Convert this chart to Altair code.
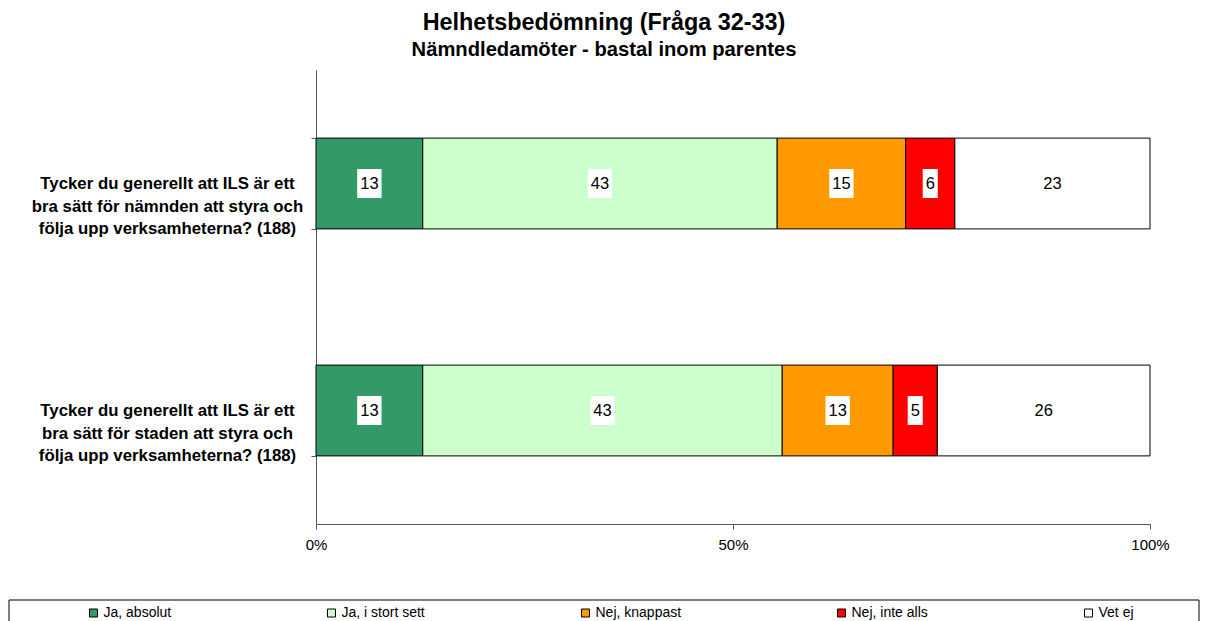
import altair as alt
import pandas as pd

FONT = "Liberation Sans"

questions = [
    "Tycker du generellt att ILS är ett\nbra sätt för nämnden att styra och\nfölja upp verksamheterna? (188)",
    "Tycker du generellt att ILS är ett\nbra sätt för staden att styra och\nfölja upp verksamheterna? (188)",
]
answers = ["Ja, absolut", "Ja, i stort sett", "Nej, knappast", "Nej, inte alls", "Vet ej"]
colors = ["#339966", "#CCFFCC", "#FF9900", "#FF0000", "#FFFFFF"]
shares_q1 = [12.8, 42.5, 15.4, 5.9, 23.4]
shares_q2 = [12.8, 43.1, 13.3, 5.3, 25.5]
labels_q1 = [13, 43, 15, 6, 23]
labels_q2 = [13, 43, 13, 5, 26]
x_ticks = [0, 50, 100]

rows = []
for q, shares, labels in [(questions[0], shares_q1, labels_q1), (questions[1], shares_q2, labels_q2)]:
    acc = 0.0
    for i, (a, s, l) in enumerate(zip(answers, shares, labels)):
        rows.append({
            "question": q, "answer": a, "idx": i, "share": s, "label": str(l),
            "start": acc, "end": acc + s, "mid": acc + s / 2, "digits": str(len(str(l))),
        })
        acc += s
df = pd.DataFrame(rows)

box1 = "M-0.52,-1L0.52,-1L0.52,1L-0.52,1Z"
box2 = "M-0.84,-1L0.84,-1L0.84,1L-0.84,1Z"

y_enc = alt.Y(
    "question:N", sort=questions, title=None,
    scale=alt.Scale(paddingInner=0.6, paddingOuter=0.3),
    axis=alt.Axis(
        labelExpr="split(datum.label, '\\n')", labelAlign="center", labelBaseline="middle",
        labelPadding=144, labelLineHeight=22.5, labelFont=FONT, labelFontSize=16.8,
        labelFontWeight="bold", labelColor="black", labelLimit=400,
        tickBand="extent", tickSize=5, tickColor="#555555", domainColor="#555555",
        grid=False,
    ),
)
x_scale = alt.Scale(domain=[0, 100], nice=False)
x_axis = alt.Axis(
    values=x_ticks, labelExpr="datum.value + '%'", title=None, grid=False,
    tickSize=5, tickColor="#555555", domainColor="#555555", labelFont=FONT,
    labelFontSize=15, labelColor="black", labelPadding=8, labelFlush=False,
)

base = alt.Chart(df)

bars = base.mark_bar(stroke="black", strokeWidth=1).encode(
    y=y_enc,
    x=alt.X("start:Q", scale=x_scale, axis=x_axis),
    x2="end:Q",
    color=alt.Color(
        "answer:N", sort=answers,
        scale=alt.Scale(domain=answers, range=colors),
        legend=alt.Legend(
            orient="none", legendX=-229.5, legendY=536, direction="horizontal",
            columns=5, columnPadding=153, symbolType="square", symbolSize=64,
            symbolStrokeColor="black", symbolStrokeWidth=1, labelFont=FONT,
            labelFontSize=14, labelColor="black", labelOffset=3, title=None, padding=0,
        ),
    ),
)

boxes = base.mark_point(filled=True, opacity=1, size=841, strokeWidth=0).encode(
    y=alt.Y("question:N", sort=questions),
    x=alt.X("mid:Q", scale=x_scale),
    shape=alt.Shape("digits:N", scale=alt.Scale(domain=["1", "2"], range=[box1, box2]), legend=None),
    color=alt.value("white"),
)

texts = base.mark_text(font=FONT, fontSize=16.5, color="black", baseline="middle").encode(
    y=alt.Y("question:N", sort=questions),
    x=alt.X("mid:Q", scale=x_scale),
    text="label:N",
)

frame = alt.Chart(pd.DataFrame({"k": [0]})).mark_rect(
    fillOpacity=0, stroke="black", strokeWidth=1
).encode(
    x=alt.value(-307), x2=alt.value(883), y=alt.value(530), y2=alt.value(570)
)

chart = alt.layer(bars, boxes, texts, frame).properties(
    width=834, height=454,
    autosize=alt.AutoSizeParams(type="none"),
    padding={"left": 308, "top": 62, "right": 50, "bottom": 97},
    title=alt.TitleParams(
        text="Helhetsbedömning (Fråga 32-33)",
        subtitle="Nämndledamöter - bastal inom parentes",
        font=FONT, fontSize=23.4, fontWeight="bold", color="black",
        subtitleFont=FONT, subtitleFontSize=20.2, subtitleFontWeight="bold",
        subtitleColor="black", anchor="middle", frame="bounds", offset=1,
        subtitlePadding=4,
    ),
).configure_view(stroke=None)

chart.save("out.html", embed_options={"renderer": "svg", "actions": False})
